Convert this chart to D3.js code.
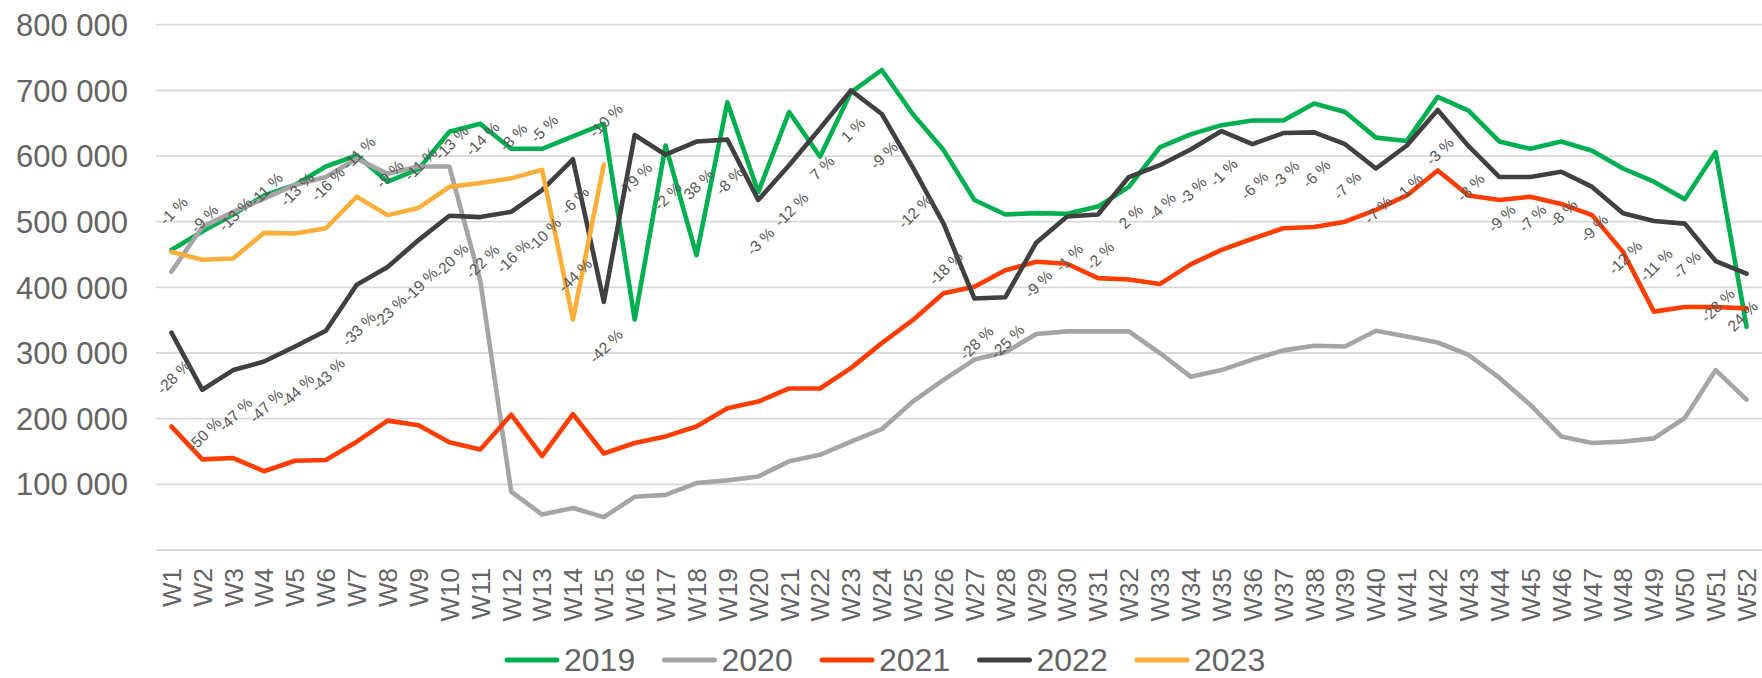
<!DOCTYPE html>
<html><head><meta charset="utf-8">
<script src="https://cdn.jsdelivr.net/npm/d3@7"></script>
<style>
body{margin:0;background:#fff}
svg{display:block;font-family:"Liberation Sans",Arial,Helvetica,sans-serif}
</style>
</head><body>
<svg id="chart" width="1762" height="678"></svg>
<script>
const weeks = ["W1","W2","W3","W4","W5","W6","W7","W8","W9","W10","W11","W12","W13","W14","W15","W16","W17","W18","W19","W20","W21","W22","W23","W24","W25","W26","W27","W28","W29","W30","W31","W32","W33","W34","W35","W36","W37","W38","W39","W40","W41","W42","W43","W44","W45","W46","W47","W48","W49","W50","W51","W52"];
const yTicks = [100000,200000,300000,400000,500000,600000,700000,800000];
const gridTicks = [0,100000,200000,300000,400000,500000,600000,700000,800000];

const v2019 = [457000,485000,511000,540000,556000,584000,601000,561000,580000,637000,649000,611000,611000,630000,649000,351000,616000,449000,682000,545000,667000,599000,697000,731000,664000,609000,533000,511000,513000,512000,523000,553000,613000,633000,647000,654000,654000,680000,667000,628000,623000,690000,669000,622000,611000,622000,608000,581000,561000,534000,606000,340000];
const v2020 = [424000,492000,515000,535000,556000,568000,596000,573000,584000,584000,410000,89000,54000,64000,50000,81000,84000,102000,106000,112000,135000,145000,165000,184000,226000,259000,290000,301000,329000,333000,333000,333000,300000,264000,274000,290000,304000,311000,310000,334000,325000,316000,297000,262000,221000,173000,163000,165000,170000,201000,274000,229000];
const v2021 = [188000,138000,140000,120000,136000,137000,165000,197000,190000,164000,153000,206000,143000,207000,147000,163000,173000,188000,216000,226000,246000,246000,277000,315000,350000,391000,401000,426000,439000,436000,414000,412000,405000,435000,457000,474000,490000,492000,500000,518000,540000,578000,540000,533000,538000,527000,510000,454000,363000,370000,370000,368000];
const v2022 = [331000,244000,274000,287000,310000,334000,404000,431000,472000,509000,507000,515000,548000,595000,378000,632000,602000,622000,625000,533000,586000,642000,700000,664000,583000,497000,383000,385000,468000,508000,511000,568000,586000,610000,638000,618000,635000,636000,618000,581000,616000,670000,615000,568000,568000,576000,553000,513000,501000,497000,440000,421000];
const v2023 = [454000,442000,444000,483000,482000,490000,538000,510000,521000,553000,559000,566000,579000,351000,587000];

const labels2022 = ["-28 %","-50 %","-47 %","-47 %","-44 %","-43 %","-33 %","-23 %","-19 %","-20 %","-22 %","-16 %","-10 %","-6 %","-42 %","79 %","-2 %","38 %","-8 %","-3 %","-12 %","7 %","1 %","-9 %","-12 %","-18 %","-28 %","-25 %","-9 %","-1 %","-2 %","2 %","-4 %","-3 %","-1 %","-6 %","-3 %","-6 %","-7 %","-7 %","-1 %","-3 %","-8 %","-9 %","-7 %","-8 %","-9 %","-12 %","-11 %","-7 %","-28 %","24 %"];
const labels2023 = ["-1 %","-9 %","-13 %","-11 %","-13 %","-16 %","-11 %","-9 %","-11 %","-13 %","-14 %","-8 %","-5 %","-44 %","-10 %"];

const seriesNames = ["2019","2020","2021","2022","2023"];
const seriesColors = ["#00B050","#A5A5A5","#FF3D00","#404040","#FBAF3A"];
const seriesValues = [v2019, v2020, v2021, v2022, v2023];

const svg = d3.select("#chart");
svg.append("rect").attr("width",1762).attr("height",678).attr("fill","#fff");

const x = d3.scaleBand().domain(weeks).range([156, 1762]).padding(0);
const cx = w => x(w) + x.bandwidth()/2;
const y = d3.scaleLinear().domain([0, 800000]).range([550, 24.7]);

const loc = d3.formatLocale({decimal:",", thousands:"\u00a0", grouping:[3], currency:["",""]});
const fmt = loc.format(",d");

// gridlines
svg.append("g").selectAll("line").data(gridTicks).join("line")
  .attr("x1", 156).attr("x2", 1762)
  .attr("y1", d => y(d)).attr("y2", d => y(d))
  .attr("stroke", "#D9D9D9").attr("stroke-width", 1.8);

// y labels
svg.append("g").selectAll("text").data(yTicks).join("text")
  .attr("x", 128).attr("y", d => y(d)).attr("dy", "0.36em")
  .attr("text-anchor", "end").attr("font-size", 31).attr("fill", "#646464")
  .text(d => fmt(d));

// x labels
svg.append("g").selectAll("text").data(weeks).join("text")
  .attr("transform", d => `translate(${cx(d)},568) rotate(-90)`)
  .attr("dy", "0.36em").attr("text-anchor", "end")
  .attr("font-size", 26).attr("fill", "#646464")
  .text(d => d);

// lines
const line = d3.line().x((d,i) => cx(weeks[i])).y(d => y(d));
seriesValues.forEach((vals, k) => {
  svg.append("path").datum(vals)
    .attr("d", line).attr("fill", "none")
    .attr("stroke", seriesColors[k]).attr("stroke-width", 4.6)
    .attr("stroke-linejoin", "round").attr("stroke-linecap", "round");
});

// data labels
const LFS = 15.5;
const lblG = svg.append("g").attr("font-size", LFS).attr("fill", "#595959");
function addLabels(vals, labels, dir) {
  labels.forEach((t, i) => {
    const px = cx(weeks[i]), py = y(vals[i]);
    const txt = lblG.append("text").attr("text-anchor", "middle").attr("dy", "0.36em").text(t);
    const w = txt.node().getComputedTextLength();
    const half = (w + 0.72 * LFS) * 0.707 / 2;
    const off = 26 + half;
    const lx = Math.min(px + 2, 1760 - half - 1), ly = py + dir * off;
    txt.attr("x", lx).attr("y", ly).attr("transform", `rotate(-45,${lx},${ly})`);
  });
}
addLabels(v2022, labels2022, 1);
addLabels(v2023, labels2023, -1);

// legend
const lg = svg.append("g");
seriesNames.forEach((n, k) => {
  const x0 = 507 + k * 157.5;
  lg.append("line").attr("x1", x0).attr("x2", x0 + 50).attr("y1", 660).attr("y2", 660)
    .attr("stroke", seriesColors[k]).attr("stroke-width", 5).attr("stroke-linecap", "round");
  lg.append("text").attr("x", x0 + 57).attr("y", 659).attr("dy", "0.36em")
    .attr("font-size", 32).attr("fill", "#646464").text(n);
});
</script>
</body></html>
